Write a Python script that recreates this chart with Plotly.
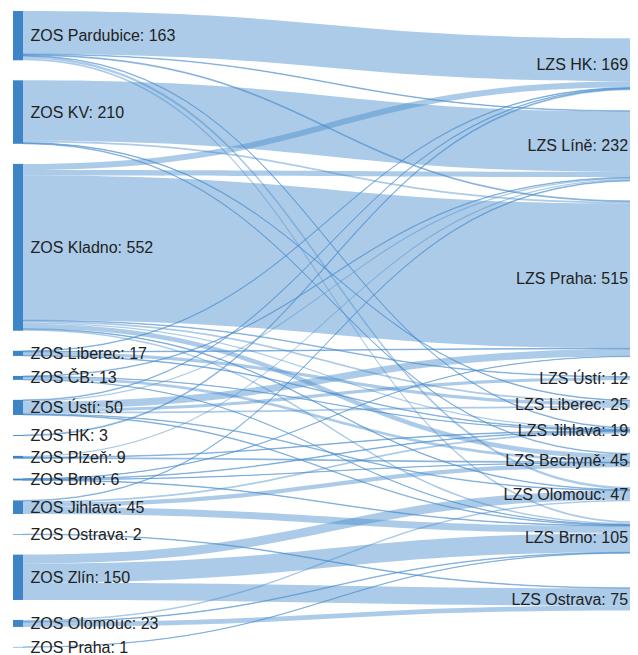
import plotly.graph_objects as go

# ---- data ----
left_nodes = ["ZOS Pardubice", "ZOS KV", "ZOS Kladno", "ZOS Liberec", "ZOS ČB", "ZOS Ústí",
              "ZOS HK", "ZOS Plzeň", "ZOS Brno", "ZOS Jihlava", "ZOS Ostrava", "ZOS Zlín",
              "ZOS Olomouc", "ZOS Praha"]
right_nodes = ["LZS HK", "LZS Líně", "LZS Praha", "LZS Ústí", "LZS Liberec", "LZS Jihlava",
               "LZS Bechyně", "LZS Olomouc", "LZS Brno", "LZS Ostrava"]

flow_from = [
    "ZOS Pardubice", "ZOS Pardubice", "ZOS Pardubice", "ZOS Pardubice", "ZOS Pardubice", "ZOS Pardubice",
    "ZOS KV", "ZOS KV", "ZOS KV", "ZOS KV",
    "ZOS Kladno", "ZOS Kladno", "ZOS Kladno", "ZOS Kladno", "ZOS Kladno", "ZOS Kladno", "ZOS Kladno", "ZOS Kladno", "ZOS Kladno",
    "ZOS Liberec", "ZOS Liberec", "ZOS Liberec", "ZOS Liberec",
    "ZOS ČB", "ZOS ČB", "ZOS ČB", "ZOS ČB",
    "ZOS Ústí", "ZOS Ústí", "ZOS Ústí", "ZOS Ústí", "ZOS Ústí", "ZOS Ústí", "ZOS Ústí",
    "ZOS HK",
    "ZOS Plzeň", "ZOS Plzeň", "ZOS Plzeň",
    "ZOS Brno", "ZOS Brno", "ZOS Brno", "ZOS Brno",
    "ZOS Jihlava", "ZOS Jihlava", "ZOS Jihlava", "ZOS Jihlava",
    "ZOS Ostrava",
    "ZOS Zlín", "ZOS Zlín", "ZOS Zlín",
    "ZOS Olomouc", "ZOS Olomouc", "ZOS Olomouc",
    "ZOS Praha",
]
flow_to = [
    "LZS HK", "LZS Líně", "LZS Praha", "LZS Jihlava", "LZS Olomouc", "LZS Brno",
    "LZS Líně", "LZS Praha", "LZS Liberec", "LZS Bechyně",
    "LZS HK", "LZS Líně", "LZS Praha", "LZS Ústí", "LZS Liberec", "LZS Jihlava", "LZS Bechyně", "LZS Olomouc", "LZS Brno",
    "LZS Liberec", "LZS HK", "LZS Praha", "LZS Jihlava",
    "LZS Bechyně", "LZS Líně", "LZS Jihlava", "LZS Brno",
    "LZS Praha", "LZS Ústí", "LZS Líně", "LZS HK", "LZS Liberec", "LZS Brno", "LZS Olomouc",
    "LZS HK",
    "LZS Líně", "LZS Bechyně", "LZS Jihlava",
    "LZS Bechyně", "LZS Jihlava", "LZS Brno", "LZS Praha",
    "LZS Bechyně", "LZS Jihlava", "LZS Líně", "LZS Brno",
    "LZS Ostrava",
    "LZS Olomouc", "LZS Brno", "LZS Ostrava",
    "LZS Ostrava", "LZS Olomouc", "LZS Brno",
    "LZS Brno",
]
flow_value = [
    142, 2, 3, 2, 8, 6,
    200, 6, 2, 2,
    20, 18, 479, 2, 6, 4, 16, 2, 5,
    11, 2, 2, 2,
    9, 2, 1, 1,
    24, 10, 4, 2, 6, 2, 2,
    3,
    4, 3, 2,
    1, 2, 2, 1,
    14, 6, 2, 23,
    2,
    30, 63, 57,
    16, 5, 2,
    1,
]

# ---- layout helpers ----
W, H = 638, 655
shift = 7.5          # plotly offsets the sankey frame by this many px
M_T = 10 - shift     # so that the frame starts at page y = 10
pad = 20
dom_h = 637          # frame height
M_B = H - M_T - dom_h
thick = 10

all_nodes = left_nodes + right_nodes
idx = {n: i for i, n in enumerate(all_nodes)}
node_tot = {n: 0 for n in all_nodes}
for s, t, v in zip(flow_from, flow_to, flow_value):
    node_tot[s] += v
    node_tot[t] += v
labels = ["\u00a0" + n + ": " + str(node_tot[n]) for n in left_nodes] + \
         [n + ": " + str(node_tot[n]) + "\u00a0" for n in right_nodes]

left_sum = sum(node_tot[n] for n in left_nodes)
ky = (dom_h - (len(left_nodes) - 1) * pad) / left_sum

node_x, node_y = [], []
cum = 0
for i, n in enumerate(left_nodes):
    c = ky * (cum + node_tot[n] / 2) + pad * i
    cum += node_tot[n]
    node_x.append((17.5 - shift) / W)
    node_y.append(c / dom_h)
# right column centres (page px)
right_center_px = [63, 145, 277, 378, 403, 430, 460, 494, 536, 599]
for c in right_center_px:
    node_x.append((640 - shift) / W)
    node_y.append((c - M_T - shift) / dom_h)

textfont = dict(family="Arial, Liberation Sans, sans-serif", size=16, color="#222222")
try:
    go.sankey.Textfont(shadow="none")
    textfont["shadow"] = "none"
except Exception:
    pass

fig = go.Figure(go.Sankey(
    arrangement="snap",
    node=dict(
        label=labels,
        x=node_x,
        y=node_y,
        pad=pad,
        thickness=thick,
        color="#3d85c6",
        line=dict(width=0),
    ),
    link=dict(
        source=[idx[s] for s in flow_from],
        target=[idx[t] for t in flow_to],
        value=flow_value,
        color="rgba(70,140,205,0.45)",
    ),
    textfont=textfont,
))
fig.update_layout(
    width=W, height=H,
    margin=dict(l=0, r=0, t=M_T, b=M_B),
    paper_bgcolor="white",
    plot_bgcolor="white",
)
fig.write_html("out.html")
